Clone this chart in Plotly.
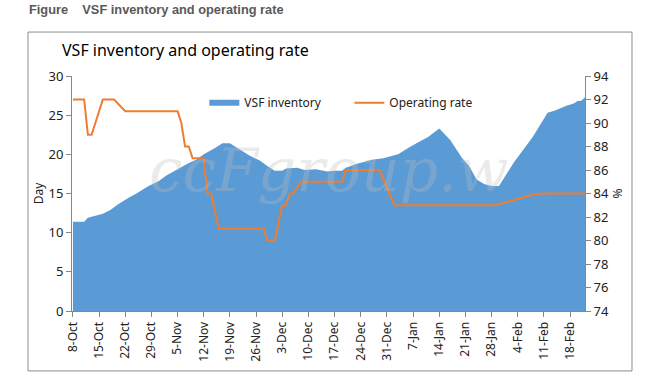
import plotly.graph_objects as go
import pandas as pd

start = pd.Timestamp("2018-10-08")

# VSF inventory (days) - breakpoints: day offset from 8-Oct, value
inv_day = [0, 3, 4, 6, 8, 10, 12, 15, 17, 20, 23, 25, 28, 31, 33, 35, 38, 40, 42, 44, 47, 50, 52, 54, 56, 57, 60, 62, 65, 68, 70, 72, 73, 76, 80, 83, 87, 90, 93, 95, 98, 101, 104, 106, 108, 110, 112, 114, 118, 123, 127, 129, 132, 134, 135, 136, 137]
inv_val = [11.4, 11.4, 11.9, 12.15, 12.4, 12.9, 13.6, 14.5, 15.0, 15.9, 16.6, 17.3, 18.1, 18.9, 19.3, 20.0, 20.8, 21.4, 21.4, 20.8, 19.9, 19.2, 18.5, 17.9, 17.9, 18.2, 18.3, 18.0, 18.1, 17.8, 17.9, 17.9, 18.3, 18.8, 19.3, 19.5, 20.0, 20.9, 21.7, 22.2, 23.3, 21.8, 19.6, 18.5, 16.8, 16.2, 15.95, 15.95, 19.0, 22.2, 25.3, 25.6, 26.2, 26.5, 26.8, 26.85, 27.3]

# Operating rate (%) - breakpoints
op_day = [0, 3, 4, 5, 8, 11, 14, 28, 29, 30, 31, 32, 35, 36, 37, 39, 51, 52, 54, 56, 57, 58, 59, 61, 72, 73, 82, 86, 113, 115, 117, 119, 121, 123, 125, 127, 137]
op_val = [92, 92, 89, 89, 92, 92, 91, 91, 90, 88, 88, 87, 87, 84, 84, 81, 81, 80, 80, 83, 83, 84, 84, 85, 85, 86, 86, 83, 83, 83.15, 83.35, 83.55, 83.75, 83.9, 83.97, 84, 84]

inv_x = [start + pd.Timedelta(days=d) for d in inv_day]
op_x = [start + pd.Timedelta(days=d) for d in op_day]

FONT = "Noto Sans"
fig = go.Figure()
fig.add_trace(go.Scatter(x=inv_x, y=inv_val, name="VSF inventory", mode="none",
                         fill="tozeroy", fillcolor="#5B9BD5", yaxis="y"))
fig.add_trace(go.Scatter(x=op_x, y=op_val, name="Operating rate", mode="lines",
                         line=dict(color="#ED7D31", width=2), yaxis="y2"))

fig.update_layout(
    width=655, height=375,
    margin=dict(l=72, r=70, t=76, b=64),
    paper_bgcolor="white", plot_bgcolor="white",
    font=dict(family=FONT, size=12, color="#222"),
    showlegend=True,
    legend=dict(orientation="h", x=0.258, y=0.886, xanchor="left", yanchor="middle",
                bgcolor="rgba(0,0,0,0)", font=dict(size=12), entrywidth=100),
    xaxis=dict(type="date", range=[start - pd.Timedelta(hours=6), start + pd.Timedelta(days=137)],
               tick0=start, dtick=7 * 86400000, tickformat="%-d-%b", tickangle=-90,
               showgrid=False, showline=True, linecolor="#888", ticks="outside",
               ticklen=5, tickcolor="#888", zeroline=False, tickfont=dict(size=12)),
    yaxis=dict(range=[0, 30], dtick=5, showgrid=False, showline=True, linecolor="#888",
               ticks="outside", ticklen=5, tickcolor="#888", zeroline=False,
               title=dict(text="Day", standoff=2, font=dict(size=12)), tickfont=dict(size=13)),
    yaxis2=dict(range=[74, 94], dtick=2, overlaying="y", side="right", showgrid=False,
                showline=True, linecolor="#888", ticks="outside", ticklen=5, tickcolor="#888",
                zeroline=False, title=dict(text="%", standoff=2, font=dict(size=12)),
                tickfont=dict(size=13)),
)

# outer chart border
fig.add_shape(type="rect", xref="paper", yref="paper", x0=-0.0858, x1=1.0916, y0=-0.255, y1=1.187,
              line=dict(color="#8c8c8c", width=1), fillcolor="rgba(0,0,0,0)", layer="below")

fig.add_annotation(xref="paper", yref="paper", x=-0.0234, y=1.11, xanchor="left", yanchor="middle",
                   text="VSF inventory and operating rate", showarrow=False,
                   font=dict(family=FONT, size=16, color="#000"))
fig.add_annotation(xref="paper", yref="paper", x=-0.0878, y=1.285, xanchor="left", yanchor="middle",
                   text="<b>Figure&nbsp;&nbsp;&nbsp;&nbsp;VSF inventory and operating rate</b>", showarrow=False,
                   font=dict(family="Liberation Sans", size=12.8, color="#595959"))
# watermark
fig.add_annotation(xref="paper", yref="paper", x=0.5, y=0.6, xanchor="center", yanchor="middle",
                   text="<i>ccFgroup.w</i>", showarrow=False,
                   font=dict(family="DejaVu Serif", size=60, color="rgba(190,190,190,0.3)"))

fig.write_html("out.html", config={"displayModeBar": False},
               post_script="document.body.style.margin='0';")
